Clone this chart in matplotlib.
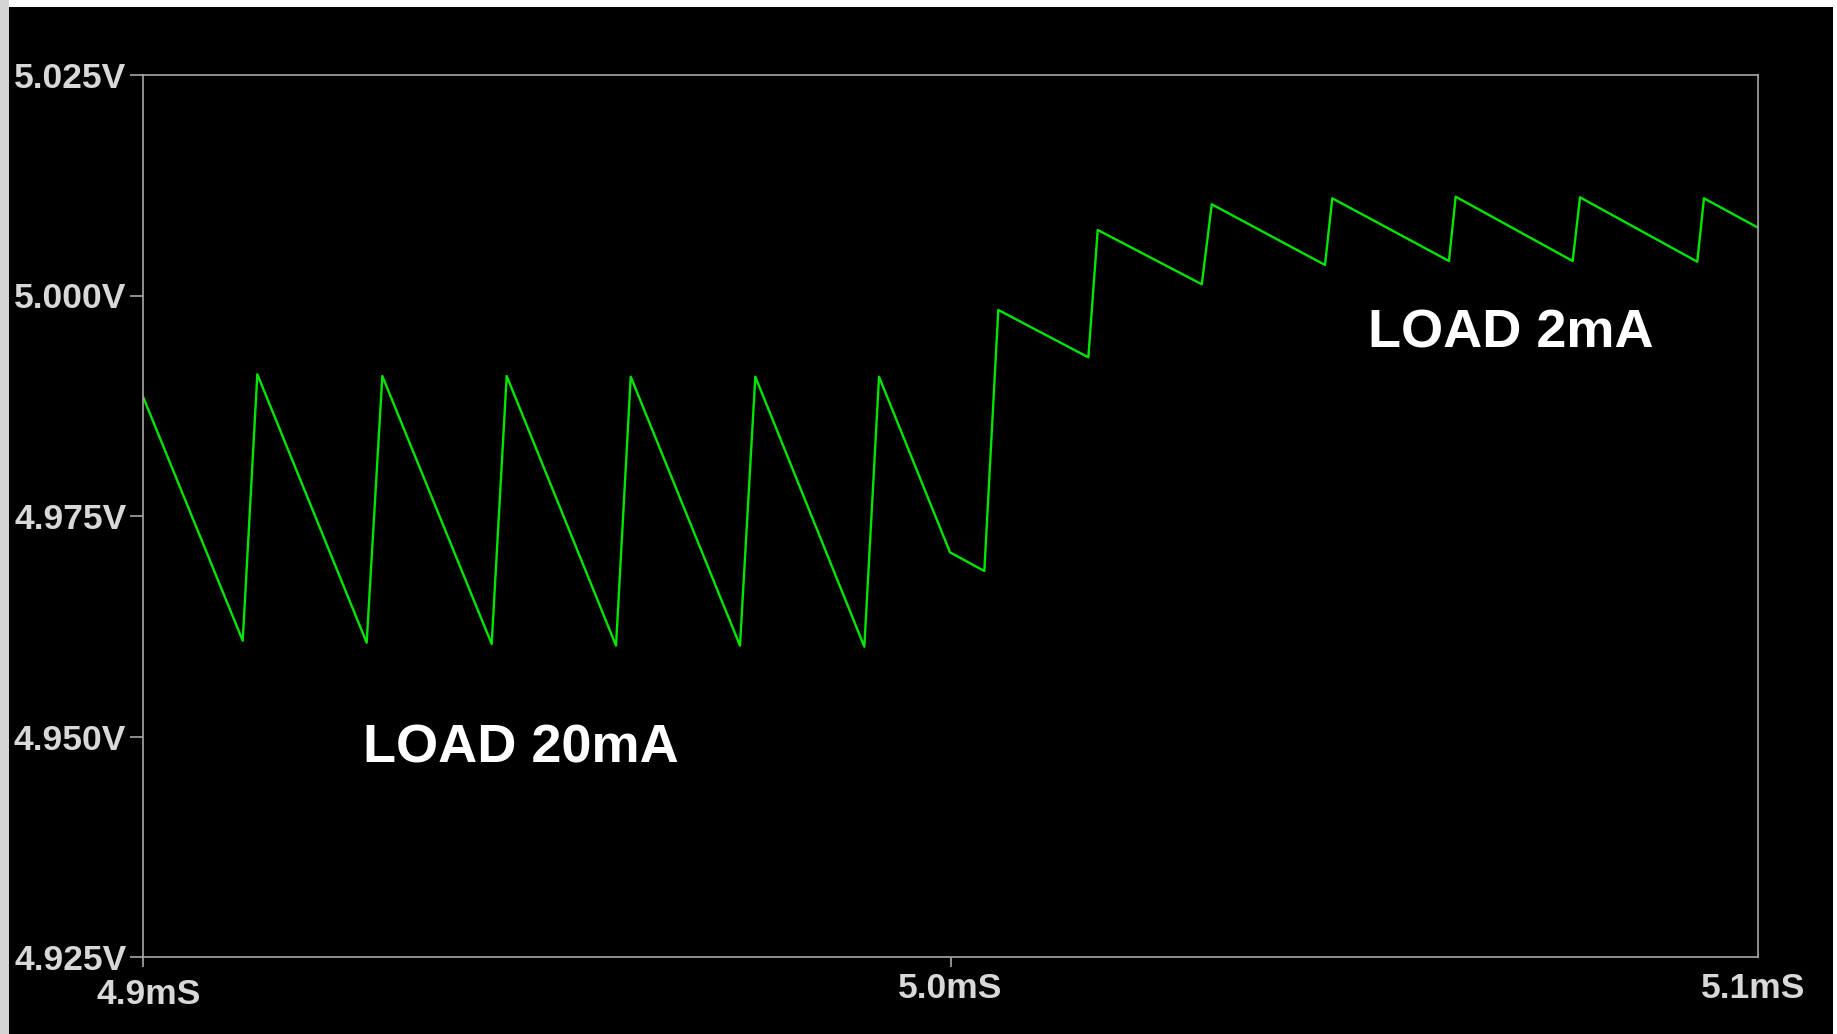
import matplotlib
matplotlib.use('Agg')
import matplotlib.pyplot as plt
from matplotlib.patches import Rectangle
from matplotlib.transforms import ScaledTranslation

# waveform vertices (time in ms, output in V)
t_ms = [4.90000, 4.91235, 4.91416, 4.92770, 4.92964, 4.94318, 4.94504,
        4.95858, 4.96040, 4.97393, 4.97583, 4.98933, 4.99115, 4.99994,
        5.00419, 5.00592, 5.01707, 5.01823, 5.03112, 5.03235, 5.04638,
        5.04728, 5.06173, 5.06256, 5.07705, 5.07796, 5.09248, 5.09331,
        5.10000]
v_out = [4.98853, 4.96086, 4.99107, 4.96064, 4.99087, 4.96049, 4.99087,
         4.96030, 4.99079, 4.96030, 4.99079, 4.96018, 4.99079, 4.97088,
         4.96876, 4.99836, 4.99299, 5.00743, 5.00127, 5.01034, 5.00346,
         5.01102, 5.00391, 5.01120, 5.00391, 5.01113, 5.00383, 5.01102,
         5.00769]

x_ticks = [4.9, 5.0, 5.1]
x_labels = ['4.9mS', '5.0mS', '5.1mS']
y_ticks = [4.925, 4.950, 4.975, 5.000, 5.025]
y_labels = ['4.925V', '4.950V', '4.975V', '5.000V', '5.025V']

notes = ['LOAD 20mA', 'LOAD 2mA']
note_t = [4.9272, 5.0517]
note_v = [4.9470, 4.9941]

fig = plt.figure(figsize=(18.37, 10.34), dpi=100, facecolor='white')
# black screen area, the grab has a thin light edge top/left/right
fig.patches.append(Rectangle((9 / 1837, 0), (1833 - 9) / 1837, (1034 - 7) / 1034,
                             transform=fig.transFigure, facecolor='black',
                             edgecolor='none', zorder=-10))
fig.patches.append(Rectangle((0, 0), 9 / 1837, 1.0, transform=fig.transFigure,
                             facecolor='#d4d4d4', edgecolor='none', zorder=-10))

ax = fig.add_axes([143 / 1837, 77 / 1034, 1615 / 1837, 882 / 1034])
ax.set_zorder(5)
ax.set_facecolor('black')
ax.plot(t_ms, v_out, color='#00e600', lw=1.7)

ax.set_xlim(4.9, 5.1)
ax.set_ylim(4.925, 5.025)
ax.set_xticks(x_ticks)
ax.set_xticklabels(x_labels)
ax.set_yticks(y_ticks)
ax.set_yticklabels(y_labels)

for s in ax.spines.values():
    s.set_color('#a8a8a8')
    s.set_linewidth(1.2)
ax.tick_params(axis='both', colors='#a8a8a8', width=1.2, direction='out')
ax.tick_params(axis='y', length=9.5, pad=2.5)
ax.tick_params(axis='x', length=7.5, pad=3.5)
ax.xaxis.get_major_ticks()[2].tick1line.set_visible(False)
for lab in ax.get_xticklabels() + ax.get_yticklabels():
    lab.set_color('#d8d8d8')
    lab.set_fontsize(25.5)
    lab.set_fontweight('bold')
    lab.set_family('Liberation Sans')

# end labels sit a little inward in the original
xl = ax.get_xticklabels()
xl[0].set_transform(xl[0].get_transform() + ScaledTranslation(6 / 100, -6 / 100, fig.dpi_scale_trans))
xl[2].set_transform(xl[2].get_transform() + ScaledTranslation(-5 / 100, 0, fig.dpi_scale_trans))

for txt, tx, ty in zip(notes, note_t, note_v):
    ax.text(tx, ty, txt, color='white', fontsize=39, fontweight='bold',
            family='Liberation Sans', ha='left', va='baseline')

fig.savefig('out.png', dpi=100, facecolor=fig.get_facecolor())
